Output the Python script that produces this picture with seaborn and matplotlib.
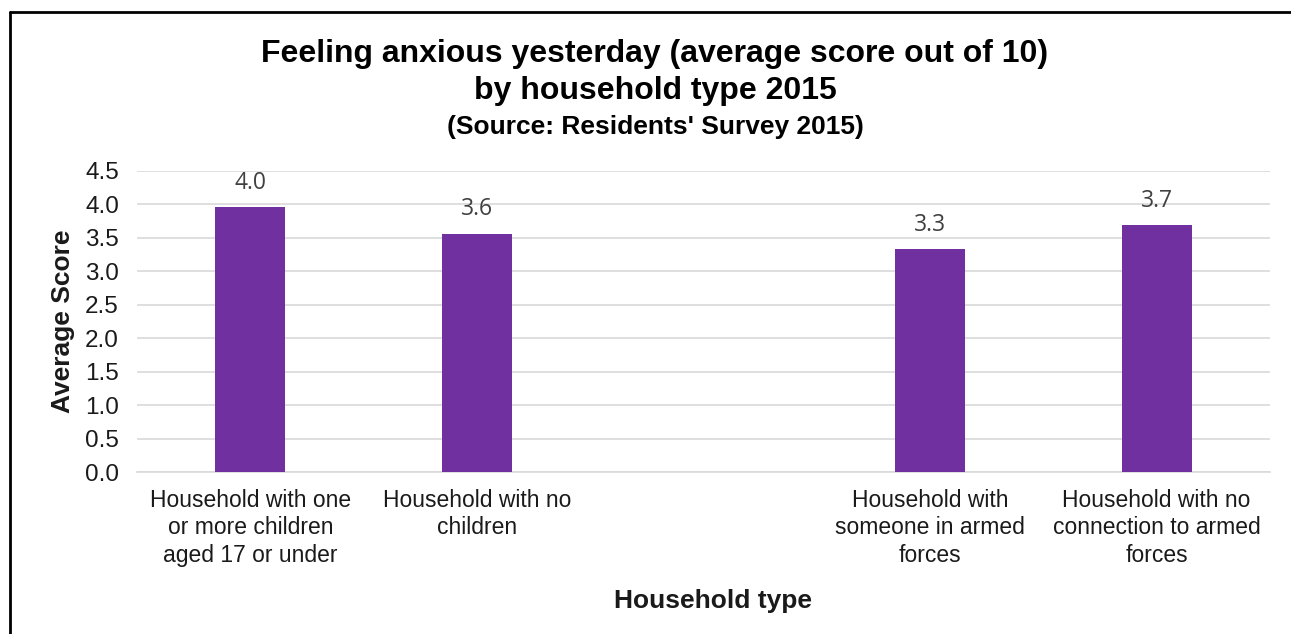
import matplotlib
matplotlib.use("Agg")
import matplotlib.pyplot as plt
import seaborn as sns
import pandas as pd

# Survey results: average anxiety score (out of 10) per household type
categories = [
    "Household with one\nor more children\naged 17 or under",
    "Household with no\nchildren",
    "Household with\nsomeone in armed\nforces",
    "Household with no\nconnection to armed\nforces",
]
scores = [3.96, 3.56, 3.33, 3.69]
# Empty slot separating the two groups of household types
slot_order = [categories[0], categories[1], "", categories[2], categories[3]]
y_ticks = [0.0, 0.5, 1.0, 1.5, 2.0, 2.5, 3.0, 3.5, 4.0, 4.5]

df = pd.DataFrame({"Household type": categories, "Average Score": scores})

sns.set_theme(style="white")
plt.rcParams["font.family"] = ["Liberation Sans", "DejaVu Sans"]

fig = plt.figure(figsize=(12.91, 6.34), dpi=100)
ax = fig.add_axes([0.1061, 0.2555, 0.8776, 0.4748])

sns.barplot(data=df, x="Household type", y="Average Score", order=slot_order,
            color="#7030A0", saturation=1, width=0.31, ax=ax, zorder=3,
            edgecolor="none")

ax.set_ylim(0, 4.5)
ax.set_yticks(y_ticks)
ax.set_yticklabels([f"{t:.1f}" for t in y_ticks], fontsize=17.5, color="#1a1a1a")
ax.yaxis.grid(True, color="#D9D9D9", linewidth=1.2, zorder=0)
ax.xaxis.grid(False)
for side in ["top", "right", "left"]:
    ax.spines[side].set_visible(False)
ax.spines["bottom"].set_color("#D9D9D9")
ax.spines["bottom"].set_linewidth(1.2)
ax.tick_params(axis="y", length=0, pad=13)
ax.tick_params(axis="x", length=0, pad=12)
for lab in ax.get_xticklabels():
    lab.set_fontsize(16.5)
    lab.set_color("#1a1a1a")
    lab.set_linespacing(1.25)

ax.set_xlabel("Household type", fontsize=19, fontweight="bold", color="#1a1a1a",
              labelpad=16)
ax.xaxis.label.set_x(0.508)
ax.set_ylabel("Average Score", fontsize=19, fontweight="bold", color="#1a1a1a",
              labelpad=7)

for cont in ax.containers:
    ax.bar_label(cont, fmt="%.1f", padding=9, fontsize=16.5, color="#404040",
                 family=["Open Sans", "DejaVu Sans"])

title_x = 655 / 1291
fig.text(title_x, 1 - 54 / 634, "Feeling anxious yesterday (average score out of 10)",
         ha="center", va="center", fontsize=23, fontweight="bold", color="#000000")
fig.text(title_x, 1 - 91 / 634, "by household type 2015",
         ha="center", va="center", fontsize=23, fontweight="bold", color="#000000")
fig.text(title_x, 1 - 127 / 634, "(Source: Residents' Survey 2015)",
         ha="center", va="center", fontsize=19, fontweight="bold", color="#000000")

# Outer frame along the top and left edges
fig.add_artist(plt.Line2D([10 / 1291, 1], [1 - 12 / 634, 1 - 12 / 634],
                          transform=fig.transFigure, color="black", linewidth=2))
fig.add_artist(plt.Line2D([10 / 1291, 10 / 1291], [0, 1 - 12 / 634],
                          transform=fig.transFigure, color="black", linewidth=2))

fig.savefig("out.png", dpi=100, facecolor="white")
